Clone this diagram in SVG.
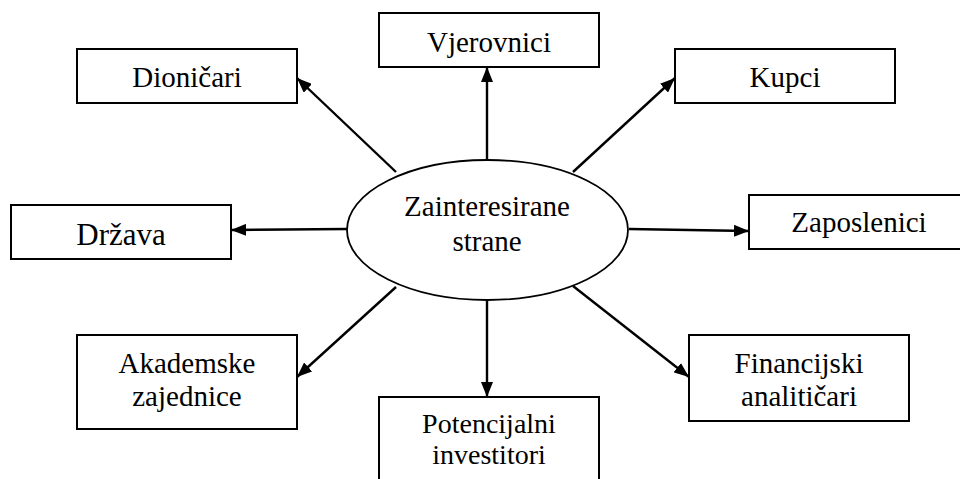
<svg xmlns="http://www.w3.org/2000/svg" width="960" height="479" viewBox="0 0 960 479">
<defs>
<style>
.box{fill:#fff;stroke:#000;stroke-width:2}
.t{font-family:"Liberation Serif","Times New Roman",serif;font-size:29px;fill:#000;text-anchor:middle}
.c{stroke:#000;stroke-width:2.4;fill:none;marker-end:url(#ah)}
</style>
<marker id="ah" viewBox="0 0 15 12" refX="15" refY="6" markerWidth="15" markerHeight="12" markerUnits="userSpaceOnUse" orient="auto">
<path d="M0,0 L15,6 L0,12 z" fill="#000"/>
</marker>
</defs>
<rect width="960" height="479" fill="#fff"/>
<g id="connectors">
<line class="c" x1="396" y1="172" x2="297" y2="78"/>
<line class="c" x1="487" y1="160" x2="487" y2="67"/>
<line class="c" x1="573" y1="172" x2="675" y2="78"/>
<line class="c" x1="629" y1="229" x2="749" y2="231"/>
<line class="c" x1="347" y1="229" x2="231" y2="230"/>
<line class="c" x1="396" y1="287" x2="297" y2="377"/>
<line class="c" x1="487" y1="300" x2="487" y2="397"/>
<line class="c" x1="573" y1="286" x2="689" y2="377"/>
</g>
<g id="center">
<ellipse cx="487.500" cy="230" rx="140.500" ry="70" fill="#fff" stroke="#000" stroke-width="1.8"/>
<text class="t" x="487" y="216">Zainteresirane</text>
<text class="t" x="487" y="251">strane</text>
</g>
<g id="dionicari">
<rect class="box" x="77" y="49" width="220" height="54"/>
<text class="t" x="187" y="87">Dioničari</text>
</g>
<g id="vjerovnici">
<rect class="box" x="379" y="13" width="220" height="54"/>
<text class="t" x="489" y="52">Vjerovnici</text>
</g>
<g id="kupci">
<rect class="box" x="675" y="49" width="220" height="54"/>
<text class="t" x="785" y="87">Kupci</text>
</g>
<g id="zaposlenici">
<rect class="box" x="749" y="195" width="220" height="54"/>
<text class="t" x="859" y="232">Zaposlenici</text>
</g>
<g id="drzava">
<rect class="box" x="11" y="205" width="220" height="54"/>
<text class="t" x="121" y="245" style="font-size:31px">Država</text>
</g>
<g id="akademske">
<rect class="box" x="77" y="335" width="220" height="94"/>
<text class="t" x="187" y="373">Akademske</text>
<text class="t" x="187" y="406">zajednice</text>
</g>
<g id="potencijalni">
<rect class="box" x="379" y="397" width="220" height="100"/>
<text class="t" x="489" y="433" style="font-size:28px">Potencijalni</text>
<text class="t" x="489" y="464" style="font-size:28px">investitori</text>
</g>
<g id="financijski">
<rect class="box" x="689" y="335" width="220" height="86"/>
<text class="t" x="799" y="373">Financijski</text>
<text class="t" x="799" y="406">analitičari</text>
</g>
</svg>
